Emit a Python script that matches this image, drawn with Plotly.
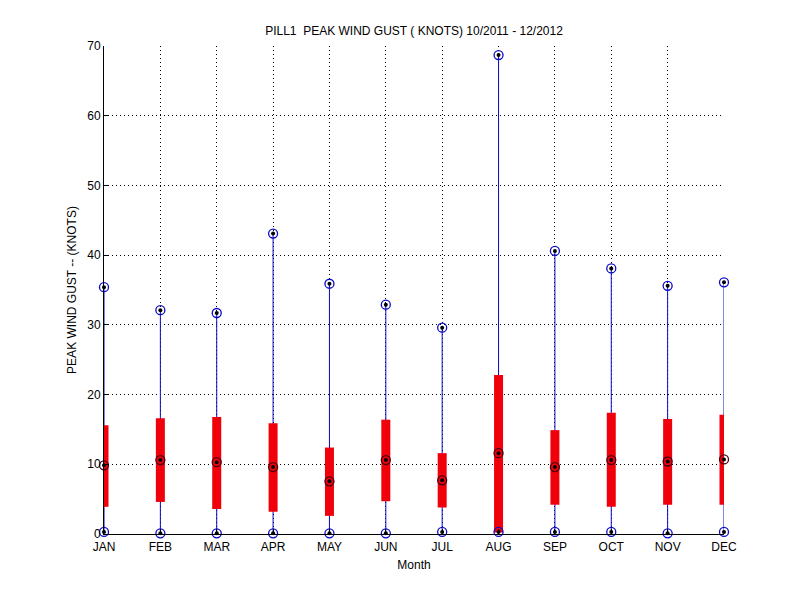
import plotly.graph_objects as go

months = ['JAN', 'FEB', 'MAR', 'APR', 'MAY', 'JUN',
          'JUL', 'AUG', 'SEP', 'OCT', 'NOV', 'DEC']
month_num = list(range(1, 13))

gust_max = [35.4, 32.1, 31.7, 43.1, 35.9, 32.9, 29.6, 68.7, 40.6, 38.1, 35.6, 36.1]
gust_min = [0.3, 0.1, 0.1, 0.1, 0.1, 0.1, 0.3, 0.3, 0.3, 0.3, 0.1, 0.3]
gust_q1 = [3.9, 4.6, 3.6, 3.2, 2.6, 4.7, 3.8, 0.2, 4.2, 3.9, 4.2, 4.2]
gust_q3 = [15.6, 16.6, 16.8, 15.9, 12.4, 16.4, 11.6, 22.8, 14.9, 17.4, 16.5, 17.1]
gust_median = [9.85, 10.6, 10.3, 9.6, 7.55, 10.6, 7.7, 11.6, 9.6, 10.6, 10.4, 10.7]

BLUE = 'rgb(10,10,200)'
RED = 'rgb(240,0,10)'

fig = go.Figure()

# whiskers and boxes are drawn as one-sided error bars, which (unlike lines)
# are not clipped at the axes, so JAN and DEC show in full
fig.add_trace(go.Scatter(
    x=month_num, y=gust_min, mode='markers',
    marker=dict(size=1, opacity=0),
    error_y=dict(type='data', symmetric=False,
                 array=[b - a for a, b in zip(gust_min, gust_max)],
                 arrayminus=[0] * 12, color=BLUE, thickness=1, width=0),
    hoverinfo='skip', cliponaxis=False))

fig.add_trace(go.Scatter(
    x=month_num, y=gust_q1, mode='markers',
    marker=dict(size=1, opacity=0),
    error_y=dict(type='data', symmetric=False,
                 array=[b - a for a, b in zip(gust_q1, gust_q3)],
                 arrayminus=[0] * 12, color=RED, thickness=9, width=0),
    hoverinfo='skip', cliponaxis=False))

# extreme markers
ext_x = month_num + month_num
ext_y = gust_max + gust_min
fig.add_trace(go.Scatter(x=ext_x, y=ext_y, mode='markers',
                         marker=dict(symbol='circle-open', size=9, color=BLUE,
                                     line=dict(width=1.3)),
                         cliponaxis=False))
fig.add_trace(go.Scatter(x=ext_x, y=ext_y, mode='markers',
                         marker=dict(symbol='circle', size=4, color='black'),
                         cliponaxis=False))

# median markers
fig.add_trace(go.Scatter(x=month_num, y=gust_median, mode='markers',
                         marker=dict(symbol='circle-open', size=9,
                                     color='rgb(70,0,20)', line=dict(width=1.3)),
                         cliponaxis=False))
fig.add_trace(go.Scatter(x=month_num, y=gust_median, mode='markers',
                         marker=dict(symbol='circle', size=4, color='black'),
                         cliponaxis=False))

font = dict(family='Liberation Sans, Arial, sans-serif', size=12, color='black')

# the page body adds an 8px offset, so margins are trimmed on the left/top
fig.update_layout(
    width=800, height=600,
    paper_bgcolor='white', plot_bgcolor='white',
    showlegend=False,
    margin=dict(l=96, r=84, t=38, b=74, autoexpand=False),
    font=font,
    title=dict(text='PILL1  PEAK WIND GUST ( KNOTS) 10/2011 - 12/2012',
               x=0.5, xref='paper', y=1 - 23 / 600, yref='container',
               yanchor='middle', xanchor='center', font=font),
)

fig.update_xaxes(
    range=[1, 12], tickvals=month_num, ticktext=months,
    showline=True, linecolor='black', linewidth=1, mirror=False,
    ticks='inside', ticklen=5, tickcolor='black', ticklabelstandoff=2,
    showgrid=True, gridcolor='black', gridwidth=1, griddash='1px,3px',
    zeroline=False, automargin=False,
    title=dict(text='Month', standoff=7, font=font),
)
fig.update_yaxes(
    range=[0, 70], dtick=10, tick0=0,
    showline=True, linecolor='black', linewidth=1, mirror=False,
    ticks='inside', ticklen=5, tickcolor='black',
    showgrid=True, gridcolor='black', gridwidth=1, griddash='1px,3px',
    zeroline=False, automargin=False,
    title=dict(text='PEAK WIND GUST -- (KNOTS)', standoff=8, font=font),
)

fig.write_html('out.html')
